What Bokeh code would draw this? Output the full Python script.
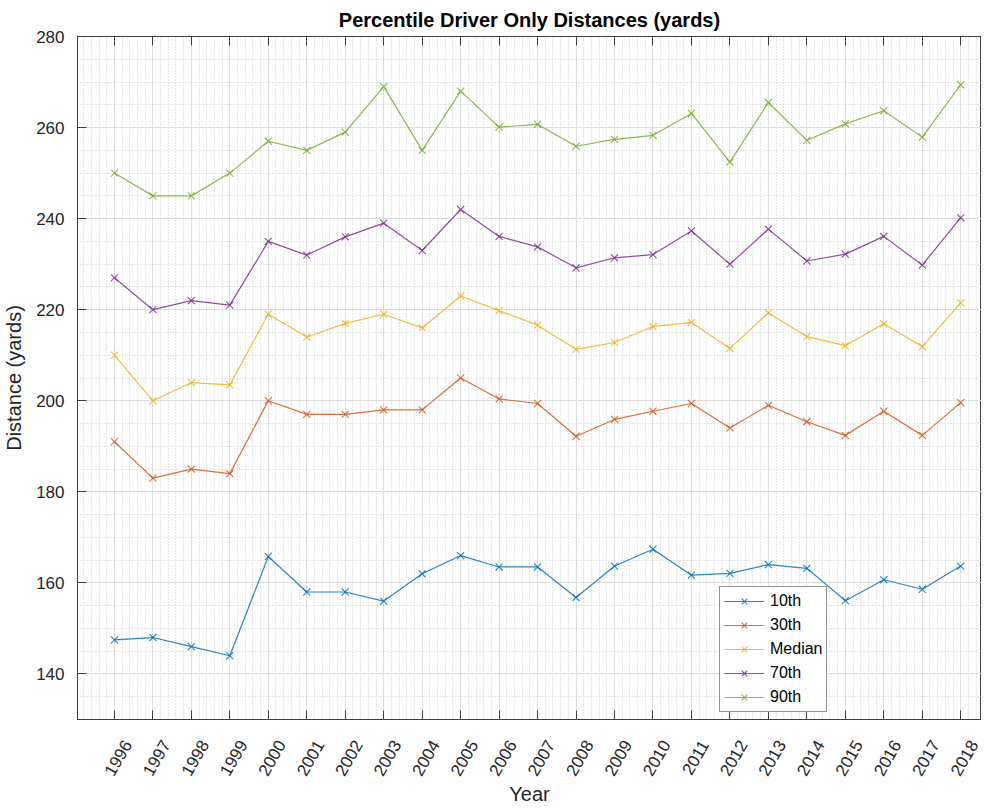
import math
from bokeh.plotting import figure
from bokeh.models import (FixedTicker, LinearAxis, Legend, LegendItem, Range1d,
                          CustomLabelingPolicy, CustomJSTickFormatter)
from bokeh.embed import file_html
from bokeh.resources import INLINE

years = list(range(1996, 2019))
p10 = [147.5, 148, 146, 144, 165.8, 158, 158, 156, 162, 166, 163.5, 163.5, 156.8,
       163.7, 167.4, 161.7, 162.1, 164.0, 163.2, 156.1, 160.7, 158.6, 163.7]
p30 = [191, 183, 185, 184, 200, 197, 197, 198, 198, 205, 200.4, 199.4, 192.2,
       195.9, 197.7, 199.4, 194.0, 199.0, 195.4, 192.4, 197.7, 192.4, 199.6]
median = [210, 200, 204, 203.5, 219, 214, 217, 219, 216, 223, 219.8, 216.6, 211.3,
          212.8, 216.3, 217.2, 211.5, 219.3, 214.1, 212.1, 216.9, 211.9, 221.5]
p70 = [227, 220, 222, 221, 235, 232, 236, 239, 233, 242, 236.1, 233.8, 229.2,
       231.4, 232.1, 237.3, 230.0, 237.7, 230.7, 232.2, 236.1, 229.8, 240.2]
p90 = [250, 245, 245, 250, 257, 255, 259, 269, 255, 268, 260.1, 260.7, 255.9,
       257.4, 258.3, 263.1, 252.4, 265.5, 257.2, 260.8, 263.7, 257.9, 269.4]

names = ["10th", "30th", "Median", "70th", "90th"]
colours = ["#0072BD", "#D95319", "#EDB120", "#7E2F8E", "#77AC30"]
y_ticks = [140, 160, 180, 200, 220, 240, 260, 280]

FONT = "Liberation Sans"
AX = "#404040"
LABEL_SHIFT = 0.34   # matlab puts the rotated year labels a bit right of the tick

# drops every tick label (axis used only for its tick marks)
no_labels = CustomLabelingPolicy(code="""
    const all = [...indices]
    for (const i of all) indices.unset(i)
    return indices
""")

p = figure(width=981, height=808,
           x_range=Range1d(1995.04, 2018.54), y_range=Range1d(130, 280),
           title="Percentile Driver Only Distances (yards)",
           y_axis_label="Distance (yards)",
           output_backend="svg", toolbar_location=None,
           min_border_left=68, min_border_right=0,
           min_border_top=36, min_border_bottom=88)

p.title.align = "center"
p.title.text_font = FONT
p.title.text_font_size = "20px"
p.title.text_color = "#000000"
p.title.standoff = 4

# ticks and grid (minor grid every 0.2 years / 5 yards)
x_minor = [y + k / 5 for y in [1995] + years for k in range(1, 5)]
y_minor = list(range(130, 281, 5))
p.xaxis.ticker = FixedTicker(ticks=years, minor_ticks=x_minor)
p.yaxis.ticker = FixedTicker(ticks=y_ticks, minor_ticks=y_minor)

for ax in (p.xaxis, p.yaxis):
    ax.axis_line_color = AX
    ax.major_tick_line_color = AX
    ax.major_tick_in = 9
    ax.major_tick_out = 0
    ax.minor_tick_line_color = None
    ax.major_label_text_font = FONT
    ax.major_label_text_font_size = "17px"
    ax.major_label_text_color = "#262626"
    ax.axis_label_text_font = FONT
    ax.axis_label_text_font_size = "20px"
    ax.axis_label_text_font_style = "normal"
    ax.axis_label_text_color = "#262626"

p.xaxis.major_label_policy = no_labels
p.xaxis.major_label_standoff = 0
p.xaxis.major_label_text_font_size = "1px"
p.yaxis.major_label_standoff = 9
p.yaxis.axis_label_standoff = 8

# year labels, rotated, on their own axis under the tick axis
year_axis = LinearAxis(
    ticker=FixedTicker(ticks=[y + LABEL_SHIFT for y in years]),
    formatter=CustomJSTickFormatter(
        args=dict(shift=LABEL_SHIFT),
        code="return Math.round(tick - shift).toString()"),
    axis_label="Year", axis_line_color=None, major_tick_line_color=None,
    minor_tick_line_color=None, major_label_standoff=8,
    major_label_orientation=math.radians(60),
    major_label_text_font=FONT, major_label_text_font_size="17px",
    major_label_text_color="#262626", axis_label_text_font=FONT,
    axis_label_text_font_size="20px", axis_label_text_font_style="normal",
    axis_label_text_color="#262626", axis_label_standoff=0)
p.add_layout(year_axis, "below")

top = LinearAxis(ticker=FixedTicker(ticks=years), axis_line_color=AX,
                 major_tick_line_color=AX, major_tick_in=9, major_tick_out=0,
                 minor_tick_line_color=None, major_label_policy=no_labels,
                 major_label_standoff=0, major_label_text_font_size="1px")
p.add_layout(top, "above")

p.outline_line_color = AX
p.xgrid.grid_line_color = "#dedede"
p.ygrid.grid_line_color = "#dedede"
p.xgrid.minor_grid_line_color = "#cccccc"
p.ygrid.minor_grid_line_color = "#cccccc"
p.xgrid.minor_grid_line_dash = "1 2"
p.ygrid.minor_grid_line_dash = "1 2"

items = []
for vals, name, col in zip([p10, p30, median, p70, p90], names, colours):
    ln = p.line(years, vals, line_color=col, line_width=1.2, line_alpha=0.85)
    sc = p.scatter(years, vals, marker="x", size=10, line_color=col,
                   line_width=1.1, line_alpha=0.85)
    items.append(LegendItem(label=name, renderers=[ln, sc]))

legend = Legend(items=items, location=(642, 7))
legend.label_text_font = FONT
legend.label_text_font_size = "16px"
legend.label_text_color = "#000000"
legend.border_line_color = "#262626"
legend.border_line_width = 1
legend.background_fill_color = "white"
legend.background_fill_alpha = 1
legend.glyph_width = 40
legend.glyph_height = 20
legend.label_standoff = 6
legend.spacing = 4
legend.padding = 4
legend.margin = 0
p.add_layout(legend, "center")

open("out.html", "w").write(file_html(p, INLINE))
